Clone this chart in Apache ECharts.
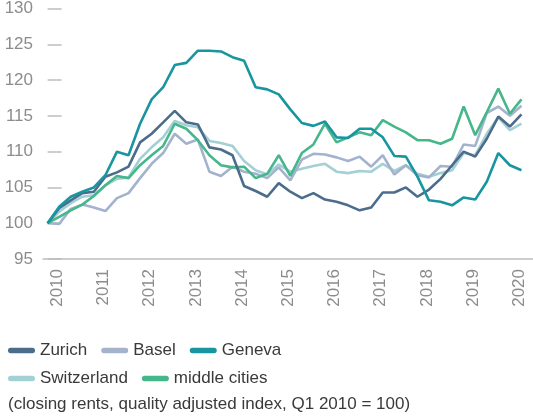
<!DOCTYPE html>
<html>
<head>
<meta charset="utf-8">
<title>Closing rents index</title>
<script src="https://cdn.jsdelivr.net/npm/echarts@6/dist/echarts.min.js"></script>
<style>
  html, body { margin: 0; padding: 0; background: #fff; }
  #chart { width: 533px; height: 418px; }
</style>
</head>
<body>
<div id="chart"></div>
<script>
// quarterly index, Q1 2010 .. Q2 2020 (Q1 2010 = 100)
const years = ['2010', '2011', '2012', '2013', '2014', '2015', '2016', '2017', '2018', '2019', '2020']
const yTicks = [95, 100, 105, 110, 115, 120, 125, 130]

const zurich = [
  100, 102.1, 103.2, 104.2, 104.4, 106.5, 107.1, 107.9,
  111.3, 112.5, 114.1, 115.7, 114.1, 113.8, 110.6, 110.3,
  109.5, 105.2, 104.5, 103.7, 105.6, 104.4, 103.5, 104.2,
  103.3, 103.0, 102.5, 101.8, 102.2, 104.3, 104.3, 105.0,
  103.7, 104.7, 106.2, 108.1, 110.0, 109.3, 111.8, 114.9,
  113.5, 115.2
]
const basel = [
  100, 99.9, 102.0, 102.6, 102.2, 101.7, 103.5, 104.2,
  106.3, 108.3, 109.8, 112.5, 111.1, 111.7, 107.2, 106.6,
  107.9, 107.2, 106.9, 106.3, 107.8, 106.0, 108.9, 109.7,
  109.6, 109.2, 108.7, 109.3, 107.9, 109.5, 106.8, 108.1,
  106.7, 106.4, 108.0, 107.9, 111.0, 110.8, 115.4, 116.3,
  115.0, 116.4
]
const geneva = [
  100, 102.3, 103.7, 104.4, 105.0, 106.7, 110.0, 109.5,
  113.9, 117.3, 119.0, 122.1, 122.4, 124.1, 124.1, 124.0,
  123.2, 122.7, 119.0, 118.7, 118.0, 115.9, 114.0, 113.6,
  114.2, 112.0, 111.9, 113.2, 113.2, 112.0, 109.4, 109.3,
  106.5, 103.2, 103.0, 102.5, 103.6, 103.3, 105.8, 109.8,
  108.1, 107.4
]
const switzerland = [
  100, 101.6, 102.8, 103.7, 103.9, 105.3, 106.2, 106.4,
  109.0, 110.6, 112.0, 114.3, 113.7, 113.4, 111.5, 111.2,
  110.8, 108.7, 107.4, 106.8, 108.2, 107.2, 107.6, 108.0,
  108.3, 107.2, 107.0, 107.3, 107.2, 108.3, 107.3, 108.1,
  106.9, 106.5, 107.0, 107.4, 109.8, 109.5, 112.5, 114.8,
  113.0, 113.9
]
const middleCities = [
  100, 100.9, 101.8, 102.6, 103.8, 105.3, 106.6, 106.3,
  108.1, 109.5, 110.8, 113.9, 113.2, 111.6, 109.5, 108.1,
  107.8, 107.9, 106.3, 106.9, 109.5, 106.6, 109.8, 111.0,
  113.9, 111.3, 112.0, 112.7, 112.3, 114.4, 113.5, 112.7,
  111.6, 111.6, 111.1, 111.8, 116.3, 112.3, 115.5, 118.8,
  115.3, 117.3
]

const labelOffset = 0.83 // year label sits a bit after Q1
const fontFamily = '"Liberation Sans", Arial, sans-serif'
const legendIcon = 'path://M3,0 L27,0 A3,3 0 0 1 27,6 L3,6 A3,3 0 0 1 3,0 Z'

const chart = echarts.init(document.getElementById('chart'))

const toPoints = arr => arr.map((v, i) => [i, v])

const makeSeries = (name, data, color) => ({
  name,
  type: 'line',
  data: toPoints(data),
  symbol: 'none',
  lineStyle: { color, width: 2.6 },
  itemStyle: { color },
  emphasis: { disabled: true }
})

const legendBase = {
  left: 3,
  itemWidth: 27,
  itemHeight: 6,
  itemGap: 14,
  icon: legendIcon,
  textStyle: { fontSize: 17, color: '#3a3a3a', fontFamily }
}

const option = {
  animation: false,
  textStyle: { fontFamily },
  title: {
    text: '(closing rents, quality adjusted index, Q1 2010 = 100)',
    left: 3,
    top: 391,
    textStyle: { fontSize: 17, fontWeight: 'normal', color: '#3a3a3a', fontFamily }
  },
  legend: [
    Object.assign({}, legendBase, { top: 337, data: ['Zurich', 'Basel', 'Geneva'] }),
    Object.assign({}, legendBase, { top: 365, data: ['Switzerland', 'middle cities'] })
  ],
  grid: {
    left: 43,
    right: 0,
    top: 7,
    bottom: 159
  },
  xAxis: {
    type: 'value',
    min: -0.4,
    max: 42,
    axisLine: { show: true, lineStyle: { color: '#bdbdbd', width: 1.5 } },
    axisTick: { show: false },
    splitLine: { show: false },
    axisLabel: {
      rotate: 90,
      margin: 10,
      fontSize: 17,
      color: '#8c8c8c',
      customValues: years.map((y, k) => labelOffset + 4 * k),
      formatter: v => years[Math.round((v - labelOffset) / 4)]
    }
  },
  yAxis: {
    type: 'value',
    min: yTicks[0],
    max: yTicks[yTicks.length - 1],
    interval: 5,
    axisLine: { show: false },
    axisTick: { show: true, inside: true, length: 14, lineStyle: { color: '#bdbdbd', width: 1.5 } },
    splitLine: { show: false },
    axisLabel: { margin: 10, fontSize: 17, color: '#8c8c8c', padding: [5, 0, 0, 0] }
  },
  series: [
    makeSeries('Switzerland', switzerland, '#a2d0d4'),
    makeSeries('Basel', basel, '#a3b3ce'),
    makeSeries('middle cities', middleCities, '#46b68b'),
    makeSeries('Zurich', zurich, '#4c6c8c'),
    makeSeries('Geneva', geneva, '#18959f')
  ]
}

chart.setOption(option)
</script>
</body>
</html>
